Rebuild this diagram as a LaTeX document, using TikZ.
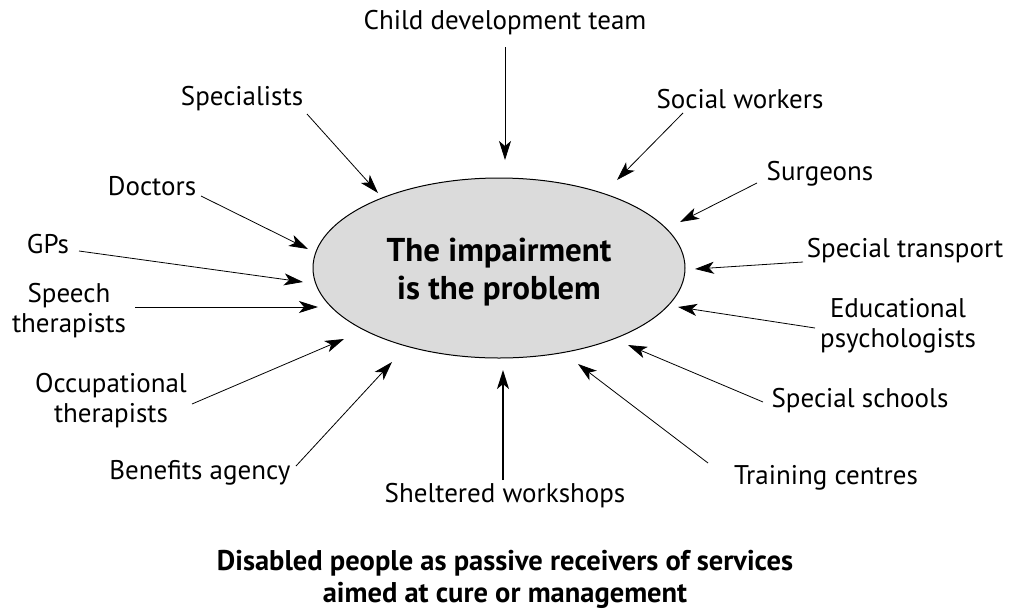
\documentclass[tikz,border=0pt]{standalone}
\usepackage{fontspec}
\setmainfont{PT Sans}
\usetikzlibrary{arrows.meta}

\tikzset{
  lbl/.style={font=\fontsize{27}{30}\selectfont, align=center, inner sep=0pt},
  arr/.style={line width=0.8pt, -{Stealth[length=19pt, width=12pt, inset=5pt]}},
  thickarr/.style={line width=2pt, -{Stealth[length=19pt, width=12pt, inset=5pt]}}
}

\begin{document}
\begin{tikzpicture}[x=1pt, y=-1pt]
        \useasboundingbox (0,0) rectangle (1011,611);
        % The centre
        \draw [fill=black!14, line width=1pt] (499,268) ellipse [x radius=186, y radius=90];
        \node (centre) [lbl, font=\fontsize{33}{38}\selectfont\bfseries] at (499,272) {The impairment\\is the problem};
        % Top
        \node (child) [lbl] at (505,23) {Child development team};
        \coordinate (child-a) at (505,47);
        \coordinate (child-b) at (505,160);
        \draw [arr] (child-a) -- (child-b);
        \node (special) [lbl] at (242,99) {Specialists};
        \coordinate (special-a) at (307,114);
        \coordinate (special-b) at (378,193);
        \draw [arr] (special-a) -- (special-b);
        \node (social) [lbl] at (740,99) {Social workers};
        \coordinate (social-a) at (683,113);
        \coordinate (social-b) at (617,180);
        \draw [arr] (social-a) -- (social-b);
        % Left side
        \node (doctors) [lbl] at (152,186) {Doctors};
        \coordinate (doctors-a) at (201,196);
        \coordinate (doctors-b) at (308,249);
        \draw [arr] (doctors-a) -- (doctors-b);
        \node (gps) [lbl] at (48,244) {GPs};
        \coordinate (gps-a) at (79,251);
        \coordinate (gps-b) at (303,282);
        \draw [arr] (gps-a) -- (gps-b);
        \node (speech) [lbl] at (69,311) {Speech\\therapists};
        \coordinate (speech-a) at (135,307);
        \coordinate (speech-b) at (318,307);
        \draw [arr] (speech-a) -- (speech-b);
        \node (occup) [lbl] at (111,401) {Occupational\\therapists};
        \coordinate (occup-a) at (192,404);
        \coordinate (occup-b) at (344,339);
        \draw [arr] (occup-a) -- (occup-b);
        \node (benefits) [lbl] at (200,473) {Benefits agency};
        \coordinate (benefits-a) at (296,466);
        \coordinate (benefits-b) at (392,362);
        \draw [arr] (benefits-a) -- (benefits-b);
        % Bottom
        \node (sheltered) [lbl] at (505,496) {Sheltered workshops};
        \coordinate (sheltered-a) at (503,480);
        \coordinate (sheltered-b) at (503,370);
        \draw [thickarr] (sheltered-a) -- (sheltered-b);
        % Right side
        \node (surgeons) [lbl] at (820,174) {Surgeons};
        \coordinate (surgeons-a) at (757,183);
        \coordinate (surgeons-b) at (680,222);
        \draw [arr] (surgeons-a) -- (surgeons-b);
        \node (transport) [lbl] at (905,251) {Special transport};
        \coordinate (transport-a) at (803,262);
        \coordinate (transport-b) at (695,269);
        \draw [arr] (transport-a) -- (transport-b);
        \node (edpsych) [lbl] at (898,326) {Educational\\psychologists};
        \coordinate (edpsych-a) at (815,328);
        \coordinate (edpsych-b) at (678,307);
        \draw [arr] (edpsych-a) -- (edpsych-b);
        \node (schools) [lbl] at (860,401) {Special schools};
        \coordinate (schools-a) at (763,402);
        \coordinate (schools-b) at (628,345);
        \draw [arr] (schools-a) -- (schools-b);
        \node (training) [lbl] at (826,478) {Training centres};
        \coordinate (training-a) at (708,463);
        \coordinate (training-b) at (578,364);
        \draw [arr] (training-a) -- (training-b);
        % Caption
        \node (caption) [lbl, font=\fontsize{28.5}{32}\selectfont\bfseries] at (505,579) {Disabled people as passive receivers of services\\aimed at cure or management};
\end{tikzpicture}
\end{document}
